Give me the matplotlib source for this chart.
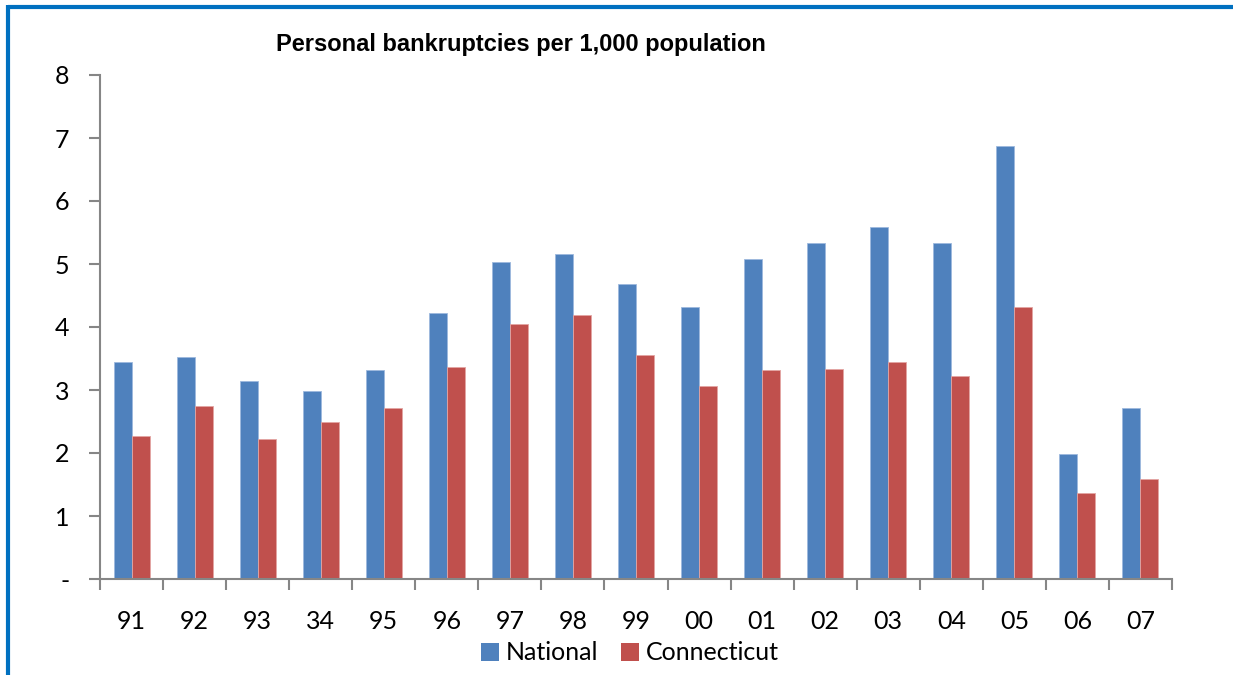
import matplotlib
matplotlib.use("Agg")
import matplotlib.pyplot as plt
from matplotlib.lines import Line2D
from matplotlib.patches import Patch
import numpy as np

categories = ["91", "92", "93", "34", "95", "96", "97", "98", "99", "00",
              "01", "02", "03", "04", "05", "06", "07"]
national = [3.45, 3.53, 3.14, 2.99, 3.32, 4.23, 5.03, 5.16, 4.69, 4.31,
            5.08, 5.34, 5.59, 5.33, 6.88, 1.99, 2.72]
connecticut = [2.27, 2.75, 2.22, 2.49, 2.71, 3.36, 4.04, 4.19, 3.55, 3.06,
               3.32, 3.34, 3.45, 3.23, 4.32, 1.37, 1.59]
yticks = [0, 1, 2, 3, 4, 5, 6, 7, 8]
ytick_labels = ["-", "1", "2", "3", "4", "5", "6", "7", "8"]

BLUE = "#4F81BD"
RED = "#C0504D"
AXC = "#868686"
LABEL_FONT = ["Lato", "DejaVu Sans"]

W, H = 1233, 675
fig = plt.figure(figsize=(W / 100, H / 100), dpi=100)
ax = fig.add_axes([100 / W, 1 - 579 / H, 1072 / W, 504 / H])

x = np.arange(len(categories))
bw = 0.285
ax.bar(x - bw / 2, national, width=bw, color=BLUE, edgecolor="#9DB9DE", linewidth=0.6, label="National")
ax.bar(x + bw / 2, connecticut, width=bw, color=RED, edgecolor="#E3A5A3", linewidth=0.6, label="Connecticut")

ax.set_xlim(-0.5, len(categories) - 0.5)
ax.set_ylim(0, 8)

for s in ["top", "right"]:
    ax.spines[s].set_visible(False)
for s in ["left", "bottom"]:
    ax.spines[s].set_color(AXC)
    ax.spines[s].set_linewidth(1.5)

ax.set_yticks(yticks)
ax.set_yticklabels(ytick_labels, fontsize=18, family=LABEL_FONT)
ax.tick_params(axis="y", direction="out", length=8, width=1.5, color=AXC, pad=14)

ax.set_xticks(x)
ax.set_xticklabels(categories, fontsize=18, family=LABEL_FONT)
ax.set_xticks(np.arange(len(categories) + 1) - 0.5, minor=True)
ax.tick_params(axis="x", which="major", length=0, pad=22)
ax.tick_params(axis="x", which="minor", direction="out", length=8, width=1.5, color=AXC)

fig.text(521 / W, 1 - 44 / H, "Personal bankruptcies per 1,000 population",
         ha="center", va="center", fontsize=17, fontweight="bold", family="Liberation Sans")

handles = [Patch(facecolor=BLUE, edgecolor="none"), Patch(facecolor=RED, edgecolor="none")]
leg = fig.legend(handles, ["National", "Connecticut"], loc="center", bbox_to_anchor=(630 / W, 1 - 653 / H),
                 ncol=2, frameon=False, prop={"family": LABEL_FONT, "size": 18},
                 handlelength=0.7, handleheight=0.7, handletextpad=0.3, columnspacing=0.9)

# blue frame (top and left edges)
fig.add_artist(Line2D([8 / W, 1.0], [1 - 7 / H, 1 - 7 / H], transform=fig.transFigure, color="#0070C0", linewidth=3, solid_capstyle="butt"))
fig.add_artist(Line2D([8 / W, 8 / W], [0.0, 1 - 5 / H], transform=fig.transFigure, color="#0070C0", linewidth=3, solid_capstyle="butt"))

fig.savefig("out.png", dpi=100)
